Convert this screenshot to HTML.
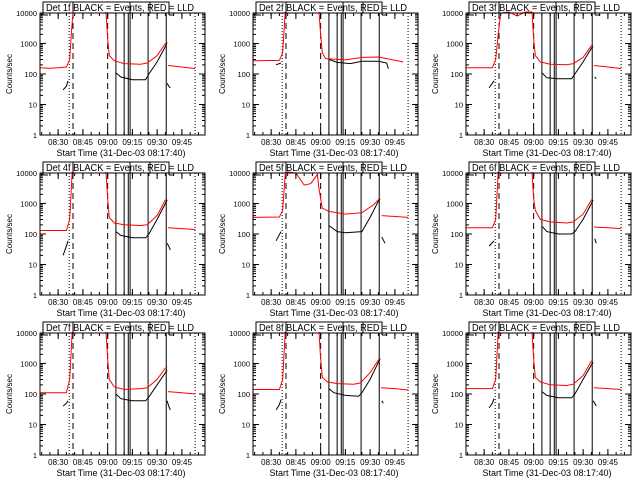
<!DOCTYPE html>
<html><head><meta charset="utf-8"><style>
body{margin:0;background:#fff;}
svg{display:block;}
text{font-family:"Liberation Sans",sans-serif;fill:#000;}
</style></head><body>
<svg id="chart" width="640" height="480" viewBox="0 0 640 480" xmlns="http://www.w3.org/2000/svg">
<rect width="640" height="480" fill="#fff"/>
</svg>
<script>
// minutes relative to 08:30; null = break
const detectorNames = ["1f","2f","3f","4f","5f","6f","7f","8f","9f"];
const redT1 = [-11,-5,0,5,7,8,9,null,29,30,31,34,40,50,54,60,65,66,null,66.5,75,83];
const redV1 = [160,155,160,170,300,2000,11000,null,11000,1500,400,270,220,210,230,400,1000,1100,null,190,170,150];
const blkT1 = [3,5,6,null,35,38,45,53,55,60,65,66,null,66,67,68];
const blkV1 = [30,40,60,null,110,80,65,65,100,250,800,1100,null,50,40,35];
const redT2 = [-11,5,7,8.5,null,29,30,31,33,45,55,65,70,80];
const redV2 = [270,280,500,11000,null,11000,2000,500,320,290,350,360,320,250];
const blkT2 = [3,6,null,35,40,48,55,65,70,71];
const blkV2 = [200,230,null,300,240,220,260,260,230,150];
const redT3 = [-11,5,7,8.5,10,15,20,25,28,29,30,31,34,40,50,54,60,65,66,null,66.5,75,83];
const redV3 = [160,160,300,2000,10000,11500,8000,11500,11500,11000,1500,400,250,210,200,220,350,850,900,null,190,170,150];
const blkT3 = [3,6,null,35,38,45,53,55,60,65,66,null,67,68];
const blkV3 = [35,60,null,110,75,70,70,100,250,700,800,null,80,70];
const redT4 = [-11,5,7,8.5,null,29,30,31,34,40,50,54,60,65,66,null,66.5,75,83];
const redV4 = [130,130,300,11000,null,11000,1500,350,230,200,190,200,400,1300,1400,null,160,150,140];
const blkT4 = [3,5,6,null,35,38,45,53,55,60,65,66,null,66,67,68];
const blkV4 = [20,40,60,null,120,90,75,75,100,300,1000,1300,null,50,40,30];
const redT5 = [-11,5,7,8.5,10,15,20,24,28,29,31,35,45,55,62,66,null,67,83];
const redV5 = [350,360,600,9000,11000,10000,4000,4500,9000,3000,700,550,450,500,900,1500,null,400,350];
const blkT5 = [3,6,null,35,40,45,55,60,65,66,null,67,69];
const blkV5 = [60,120,null,190,120,110,120,350,1200,1400,null,80,50];
const redT6 = [-11,5,7,8.5,null,29,30,31,34,40,50,54,60,65,66,null,66.5,75,83];
const redV6 = [160,160,300,11000,null,11000,1500,600,300,250,230,250,450,1300,1400,null,170,160,150];
const blkT6 = [3,6,null,35,38,45,53,55,60,65,66,null,67,68];
const blkV6 = [40,60,null,180,120,100,100,120,300,1000,1300,null,70,50];
const redT7 = [-11,5,7,8.5,null,29,30,31,34,40,50,54,60,65,66,null,66.5,75,83];
const redV7 = [110,110,300,11000,null,11000,1500,300,170,140,150,160,300,700,800,null,120,110,100];
const blkT7 = [3,5,6,null,35,38,45,53,55,60,65,66,null,66,67,68];
const blkV7 = [40,50,60,null,100,70,60,60,80,200,500,600,null,60,40,30];
const redT8 = [-11,5,7,8.5,null,29,30,31,34,40,50,54,60,65,66,null,66.5,75,83];
const redV8 = [140,140,300,11000,null,11000,1500,350,250,220,210,230,500,1300,1500,null,160,150,135];
const blkT8 = [3,5,6,null,35,38,45,53,55,60,65,66,null,67,68];
const blkV8 = [30,45,65,null,150,110,90,85,110,300,1100,1400,null,60,50];
const redT9 = [-11,5,7,8.5,null,29,30,31,34,40,50,54,60,65,66,null,66.5,75,83];
const redV9 = [150,150,300,11000,null,11000,1500,350,250,200,190,210,400,1200,1300,null,160,150,140];
const blkT9 = [3,5,6,null,35,38,45,53,55,60,65,66,null,66,67,68];
const blkV9 = [35,50,70,null,120,90,75,75,100,300,900,1100,null,60,50,40];
const redTimes = [redT1,redT2,redT3,redT4,redT5,redT6,redT7,redT8,redT9];
const redVals = [redV1,redV2,redV3,redV4,redV5,redV6,redV7,redV8,redV9];
const blkTimes = [blkT1,blkT2,blkT3,blkT4,blkT5,blkT6,blkT7,blkT8,blkT9];
const blkVals = [blkV1,blkV2,blkV3,blkV4,blkV5,blkV6,blkV7,blkV8,blkV9];
const yTickVals = [1,10,100,1000,10000];
const yTickLabels = ["1","10","100","1000","10000"];
const xTickVals = [0,15,30,45,60,75];
const xTickLabels = ["08:30","08:45","09:00","09:15","09:30","09:45"];
const dottedTimes = [6.7,83];
const dashedTimes = [9,30];
const solidTimes = [35,40,42.5,43.6,54.5,65.5];

const NS="http://www.w3.org/2000/svg";
const svg=document.getElementById('chart');
const X0=40,X1=205,Y0=13,Y1=135,T0=-11,T1=89;
function xs(t){return X0+(t-T0)/(T1-T0)*(X1-X0);}
function ys(v){let y=Y1-Math.log10(v)/4*(Y1-Y0);return Math.max(Y0-1,Math.min(Y1,y));}
function mk(tag,attrs,parent){const e=document.createElementNS(NS,tag);for(const k in attrs)e.setAttribute(k,attrs[k]);parent.appendChild(e);return e;}
function pathD(T,V){let d="",pen=false;for(let i=0;i<T.length;i++){if(T[i]===null){pen=false;continue;}d+=(pen?"L":"M")+xs(T[i]).toFixed(1)+","+ys(V[i]).toFixed(1);pen=true;}return d;}

for(let p=0;p<9;p++){
  const ox=(p%3)*213, oy=Math.floor(p/3)*160;
  const g=mk('g',{transform:`translate(${ox},${oy})`},svg);
  
  
  const br=mk('path',{d:`M43,15V2H169V15M43,15H48M169,15H174M73,2V13M150,2V13M130,2V13`,stroke:'#000',fill:'none','stroke-width':1},g);
  
  
  const tt=mk('text',{x:46,y:11,'font-size':10,textLength:148,lengthAdjust:'spacingAndGlyphs'},g);
  tt.textContent=`Det ${detectorNames[p]} BLACK = Events, RED = LLD`;
  
  
  dottedTimes.forEach(t=>{const l=mk('line',{x1:xs(t),x2:xs(t),y1:Y0,y2:Y1,stroke:'#000','stroke-dasharray':'1,2'},g);
    });
  dashedTimes.forEach(t=>{const l=mk('line',{x1:xs(t),x2:xs(t),y1:Y0,y2:Y1,stroke:'#000','stroke-dasharray':'6,4'},g);
    });
  solidTimes.forEach(t=>{const l=mk('line',{x1:xs(t),x2:xs(t),y1:Y0,y2:Y1,stroke:'#000'},g);
    });
  const bl=mk('path',{d:pathD(blkTimes[p],blkVals[p]),stroke:'#000',fill:'none','stroke-width':1},g);
  
  
  const rl=mk('path',{d:pathD(redTimes[p],redVals[p]),stroke:'#ff0000',fill:'none','stroke-width':1},g);
  
  
  const fr=mk('rect',{x:X0,y:Y0,width:X1-X0,height:Y1-Y0,fill:'none',stroke:'#000'},g);
  
  
  for(let d=0;d<4;d++){for(let m=2;m<10;m++){const y=ys(Math.pow(10,d)*m);
    mk('path',{d:`M${X0},${y}h3M${X1},${y}h-3`,stroke:'#000'},g);}}
  yTickVals.forEach((v,i)=>{const y=ys(v);
    mk('path',{d:`M${X0},${y}h6M${X1},${y}h-6`,stroke:'#000'},g);
    const t=mk('text',{x:X0-3,y:y+3,'text-anchor':'end','font-size':7.5},g);t.textContent=yTickLabels[i];
    });
  for(let t=-10;t<=85;t+=5){const x=xs(t);mk('path',{d:`M${x},${Y1}v-3M${x},${Y0}v3`,stroke:'#000'},g);}
  xTickVals.forEach((v,i)=>{const x=xs(v);
    mk('path',{d:`M${x},${Y1}v-6M${x},${Y0}v6`,stroke:'#000'},g);
    const t=mk('text',{x:x,y:Y1+10,'text-anchor':'middle','font-size':8},g);t.textContent=xTickLabels[i];
    });
  const xt=mk('text',{x:121,y:156,'text-anchor':'middle','font-size':9},g);
  xt.textContent='Start Time (31-Dec-03 08:17:40)';
  
  
  const yt=mk('text',{x:0,y:0,'text-anchor':'middle','font-size':8,transform:'translate(12,74) rotate(-90)'},g);
  yt.textContent='Counts/sec';
  
  
}
</script>
</body></html>
